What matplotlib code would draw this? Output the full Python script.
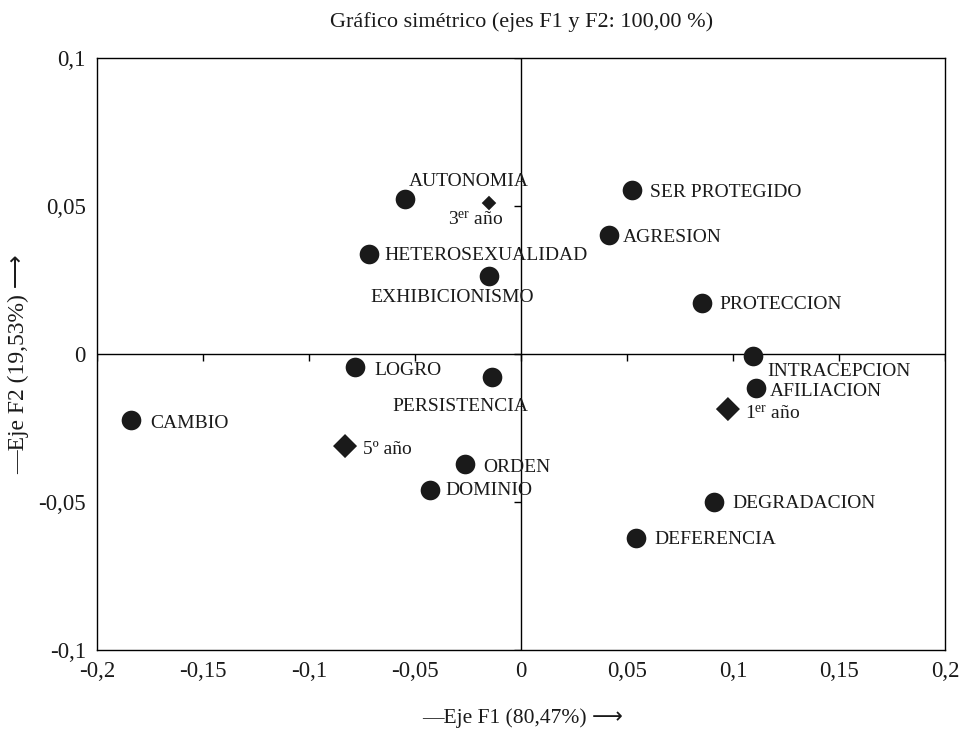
import matplotlib
matplotlib.use("Agg")
import matplotlib.pyplot as plt
from matplotlib.markers import TICKDOWN, TICKLEFT

plt.rcParams['font.family'] = ['Liberation Serif', 'DejaVu Serif']
plt.rcParams['mathtext.fontset'] = 'custom'
plt.rcParams['mathtext.rm'] = 'Liberation Serif'
plt.rcParams['mathtext.it'] = 'Liberation Serif:italic'

# --- data ---
var_names = ["AUTONOMIA", "HETEROSEXUALIDAD", "EXHIBICIONISMO", "SER PROTEGIDO",
             "AGRESION", "PROTECCION", "INTRACEPCION", "AFILIACION", "LOGRO",
             "PERSISTENCIA", "CAMBIO", "ORDEN", "DOMINIO", "DEGRADACION", "DEFERENCIA"]
var_f1 = [-0.0547, -0.0717, -0.0151, 0.0524, 0.0415, 0.0854, 0.1094, 0.1108,
          -0.0783, -0.0137, -0.1840, -0.0264, -0.0429, 0.0910, 0.0542]
var_f2 = [0.0524, 0.0338, 0.0264, 0.0554, 0.0402, 0.0172, -0.0007, -0.0115,
          -0.0044, -0.0078, -0.0223, -0.0372, -0.0459, -0.0500, -0.0622]

year_names = ["1$^{\\rm er}$ año", "3$^{\\rm er}$ año", "5º año"]
year_f1 = [0.0976, -0.0151, -0.0830]
year_f2 = [-0.0186, 0.0510, -0.0311]

xticks = [-0.2, -0.15, -0.1, -0.05, 0, 0.05, 0.1, 0.15, 0.2]
xticklabels = ["-0,2", "-0,15", "-0,1", "-0,05", "0", "0,05", "0,1", "0,15", "0,2"]
yticks = [-0.1, -0.05, 0, 0.05, 0.1]
yticklabels = ["-0,1", "-0,05", "0", "0,05", "0,1"]

# label offsets (pixels: dx of left edge, dy of text center)
var_offsets = [(4, 17), (15, -2), (-119, -22), (18, -2), (14, -2), (17, -1),
               (14, -15), (14, -3), (19, -3), (-100, -29), (19, -3), (18, -3),
               (15, -1), (18, -2), (18, -1)]
year_offsets = [(17, -5), (-41, -17), (18, -3)]
year_sizes = [150, 55, 150]

fig = plt.figure(figsize=(9.65, 7.34), dpi=100)
ax = fig.add_axes([97/965, 1-650/734, (945-97)/965, (650-58)/734])
ax.set_xlim(-0.2, 0.2)
ax.set_ylim(-0.1, 0.1)

ink = '#1a1a1a'
ax.axhline(0, color='black', lw=1.0, zorder=1)
ax.axvline(0, color='black', lw=1.0, zorder=1)
ax.plot(xticks, [0]*len(xticks), ls='none', marker=TICKDOWN, ms=5, mew=1.0, color='black', zorder=1)
ax.plot([0]*len(yticks), yticks, ls='none', marker=TICKLEFT, ms=5, mew=1.0, color='black', zorder=1)

ax.scatter(var_f1, var_f2, s=200, color=ink, zorder=3, linewidths=0)
ax.scatter(year_f1, year_f2, s=year_sizes, marker='D', color=ink, zorder=3, linewidths=0)

pt = 0.72
for name, x, y, (dx, dy) in zip(var_names, var_f1, var_f2, var_offsets):
    ax.annotate(name, (x, y), xytext=(dx*pt, dy*pt), textcoords='offset points',
                ha='left', va='center', fontsize=14, color=ink, zorder=4)
for name, x, y, (dx, dy) in zip(year_names, year_f1, year_f2, year_offsets):
    ax.annotate(name, (x, y), xytext=(dx*pt, dy*pt), textcoords='offset points',
                ha='left', va='center', fontsize=14, color=ink, zorder=4)

ax.set_xticks(xticks)
ax.set_xticklabels(xticklabels, fontsize=16.5)
ax.set_yticks(yticks)
ax.set_yticklabels(yticklabels, fontsize=16.5)
ax.tick_params(length=0, pad=8, colors=ink)
for s in ax.spines.values():
    s.set_linewidth(1.0)

fig.text(522/965, 1-22/734, "Gráfico simétrico (ejes F1 y F2: 100,00 %)", ha='center', va='center',
         fontsize=16, color=ink)
fig.text(523/965, 1-718/734, "\u2014Eje F1 (80,47%) \u27F6", ha='center', va='center', fontsize=15.5,
         family=['Liberation Serif', 'DejaVu Sans'], color=ink)
fig.text(19/965, 1-364/734, "\u2014Eje F2 (19,53%) \u27F6", ha='center', va='center', fontsize=17,
         rotation=90, family=['Liberation Serif', 'DejaVu Sans'], color=ink)

fig.savefig("out.png", dpi=100)
